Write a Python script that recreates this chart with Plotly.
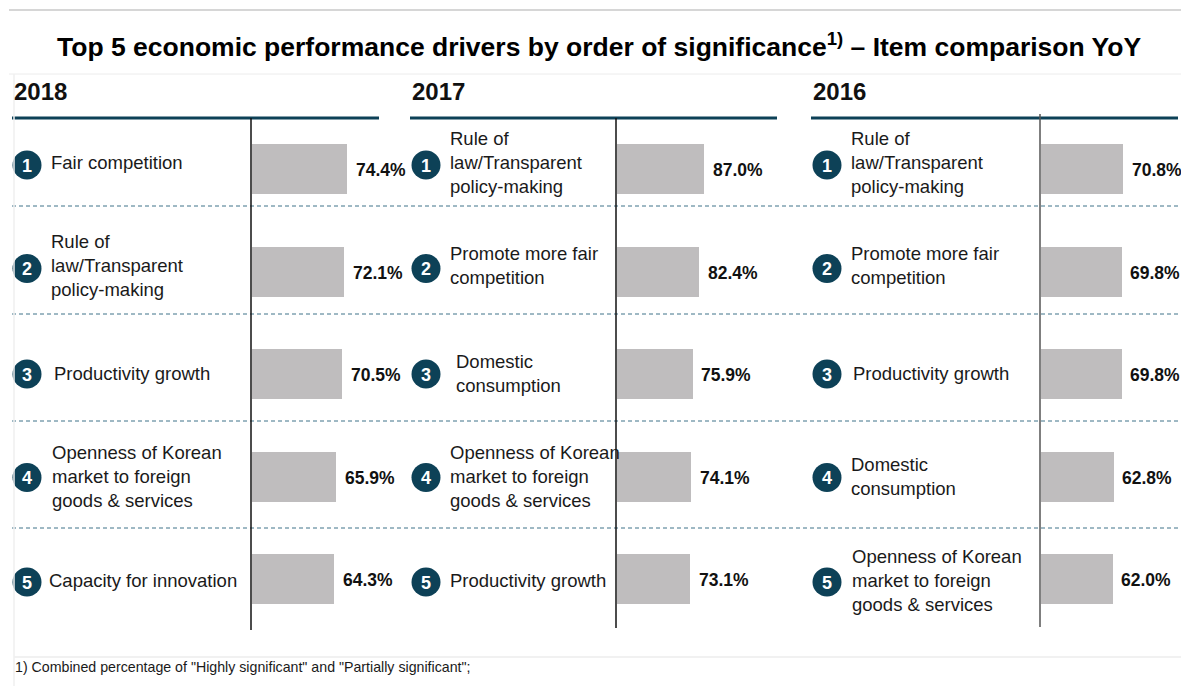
import plotly.graph_objects as go

# ---------------- data ----------------
years = ["2018", "2017", "2016"]
ranks = [1, 2, 3, 4, 5]

labels_2018 = ["Fair competition",
               "Rule of<br>law/Transparent<br>policy-making",
               "Productivity growth",
               "Openness of Korean<br>market to foreign<br>goods & services",
               "Capacity for innovation"]
values_2018 = [74.4, 72.1, 70.5, 65.9, 64.3]

labels_2017 = ["Rule of<br>law/Transparent<br>policy-making",
               "Promote more fair<br>competition",
               "Domestic<br>consumption",
               "Openness of Korean<br>market to foreign<br>goods & services",
               "Productivity growth"]
values_2017 = [87.0, 82.4, 75.9, 74.1, 73.1]

labels_2016 = ["Rule of<br>law/Transparent<br>policy-making",
               "Promote more fair<br>competition",
               "Productivity growth",
               "Domestic<br>consumption",
               "Openness of Korean<br>market to foreign<br>goods & services"]
values_2016 = [70.8, 69.8, 69.8, 62.8, 62.0]

title_text = ("Top 5 economic performance drivers by order of significance"
              "<sup>1)</sup> – Item comparison YoY")
footnote_text = '1) Combined percentage of "Highly significant" and "Partially significant";'

# ---------------- layout constants (page pixels) ----------------
PAGE_W, PAGE_H = 1189, 686
OFF = 8                      # default body margin of the html page
W, H = PAGE_W - OFF, PAGE_H - OFF

def px(x):
    return (x - OFF) / W
def py(y):
    return 1 - (y - OFF) / H

TEAL = "#0d4157"
BAR = "#bfbdbe"
TXT = "#1a1a1a"
SANS = "Liberation Sans, Arial, sans-serif"

panels = [
    dict(year="2018", labels=labels_2018, values=values_2018, line_x=251, ppp=1.277,
         circle_x=27, label_x=49, year_x=12, teal=(12, 379), vline=(118, 630), vcol="#111111",
         dx=[0, 0, 3, 1, -2]),
    dict(year="2017", labels=labels_2017, values=values_2017, line_x=616, ppp=1.0,
         circle_x=426, label_x=448, year_x=410, teal=(410, 777), vline=(118, 628), vcol="#111111",
         dx=[0, 0, 6, 0, 0]),
    dict(year="2016", labels=labels_2016, values=values_2016, line_x=1040, ppp=1.16,
         circle_x=827, label_x=849, year_x=811, teal=(811, 1178), vline=(114, 627), vcol="#555555",
         dx=[0, 0, 2, 0, 1]),
]

row_top, row_bot = 117.75, 630.25
row_label_shift = [-7, -6.5, -1, 0, 1]   # px, positive = down
row_circle_shift = [-4, -3, 0, 1, 3]     # px, positive = down
line_h = 24
R = 14.5

fig = go.Figure()
annotations = []
shapes = []
layout_axes = {}

for i, p in enumerate(panels):
    ax = "" if i == 0 else str(i + 1)
    span = min(170, PAGE_W - p["line_x"] - 2)
    layout_axes["xaxis" + ax] = dict(
        domain=[px(p["line_x"] + 0.5), px(p["line_x"] + 0.5 + span)],
        range=[0, span / p["ppp"]], visible=False, fixedrange=True, anchor="y")
    fig.add_trace(go.Bar(
        x=p["values"], y=ranks, orientation="h", width=0.49,
        marker=dict(color=BAR, line=dict(width=0)),
        xaxis="x" + ax, yaxis="y", hoverinfo="skip", showlegend=False))
    # value labels
    for r, v in zip(ranks, p["values"]):
        annotations.append(dict(
            x=v, y=r, xref="x" + ax, yref="y", text=f"<b>{v:.1f}%</b>",
            showarrow=False, xanchor="left", yanchor="middle", xshift=7, yshift=-1,
            font=dict(family=SANS, size=17.5, color="#111111")))
    # category labels (line by line) + rank badges
    for k, (r, lab) in enumerate(zip(ranks, p["labels"])):
        lines = lab.split("<br>")
        n = len(lines)
        for j, ln in enumerate(lines):
            off = (j - (n - 1) / 2) * line_h + row_label_shift[k]
            annotations.append(dict(
                x=px(p["label_x"] + p["dx"][k]), y=r, xref="paper", yref="y", text=ln,
                showarrow=False, xanchor="left", yanchor="middle", yshift=-off,
                font=dict(family=SANS, size=18.5, color=TXT)))
        cs = row_circle_shift[k]
        shapes.append(dict(
            type="circle", xref="paper", yref="y", xsizemode="pixel", ysizemode="pixel",
            xanchor=px(p["circle_x"]), yanchor=r,
            x0=-R, x1=R, y0=-R - cs, y1=R - cs,
            fillcolor=TEAL, line=dict(width=0), layer="above"))
        annotations.append(dict(
            x=px(p["circle_x"]), y=r, xref="paper", yref="y", text=f"<b>{r}</b>",
            showarrow=False, xanchor="center", yanchor="middle", yshift=-cs - 0.5,
            font=dict(family=SANS, size=18, color="white")))
    # year heading
    annotations.append(dict(
        x=px(p["year_x"]), y=py(92), xref="paper", yref="paper", text=f"<b>{p['year']}</b>",
        showarrow=False, xanchor="left", yanchor="middle",
        font=dict(family=SANS, size=24, color="#111111")))
    # teal heading rule
    shapes.append(dict(type="line", xref="paper", yref="paper",
                       x0=px(p["teal"][0]), x1=px(p["teal"][1]), y0=py(118), y1=py(118),
                       line=dict(color=TEAL, width=3)))
    # vertical axis line
    shapes.append(dict(type="line", xref="paper", yref="paper",
                       x0=px(p["line_x"]), x1=px(p["line_x"]),
                       y0=py(p["vline"][0]), y1=py(p["vline"][1]),
                       line=dict(color=p["vcol"], width=1.5), layer="above"))

# dashed separators
for yy in [206, 314, 421, 528]:
    shapes.append(dict(type="line", xref="paper", yref="paper",
                       x0=px(12), x1=px(1180), y0=py(yy), y1=py(yy),
                       line=dict(color="#3f7389", width=1, dash="4px,3px"), layer="below"))

# frame lines
shapes += [
    dict(type="line", xref="paper", yref="paper", x0=px(9), x1=px(1189), y0=py(10), y1=py(10),
         line=dict(color="#d6d6d6", width=2)),
    dict(type="line", xref="paper", yref="paper", x0=px(9), x1=px(1189), y0=py(74), y1=py(74),
         line=dict(color="#ececec", width=1)),
    dict(type="line", xref="paper", yref="paper", x0=px(14), x1=px(1189), y0=py(657), y1=py(657),
         line=dict(color="#ececec", width=1.5)),
    dict(type="line", xref="paper", yref="paper", x0=px(14), x1=px(14), y0=py(74), y1=py(686),
         line=dict(color="#efefef", width=1.5)),
    dict(type="line", xref="paper", yref="paper", x0=px(1186), x1=px(1186), y0=py(74), y1=py(686),
         line=dict(color="#efefef", width=1.5)),
]

# title & footnote
annotations.append(dict(
    x=px(599), y=py(45), xref="paper", yref="paper", text=f"<b>{title_text}</b>",
    showarrow=False, xanchor="center", yanchor="middle",
    font=dict(family=SANS, size=26.5, color="#000000")))
annotations.append(dict(
    x=px(13), y=py(667), xref="paper", yref="paper", text=footnote_text,
    showarrow=False, xanchor="left", yanchor="middle",
    font=dict(family=SANS, size=14.2, color=TXT)))

fig.update_layout(
    width=W, height=H, margin=dict(l=0, r=0, t=0, b=0),
    paper_bgcolor="white", plot_bgcolor="rgba(0,0,0,0)",
    yaxis=dict(domain=[py(row_bot), py(row_top)], range=[5.5, 0.5], visible=False,
               fixedrange=True),
    annotations=annotations, shapes=shapes, bargap=0, showlegend=False,
    **layout_axes)

fig.write_html("out.html")
